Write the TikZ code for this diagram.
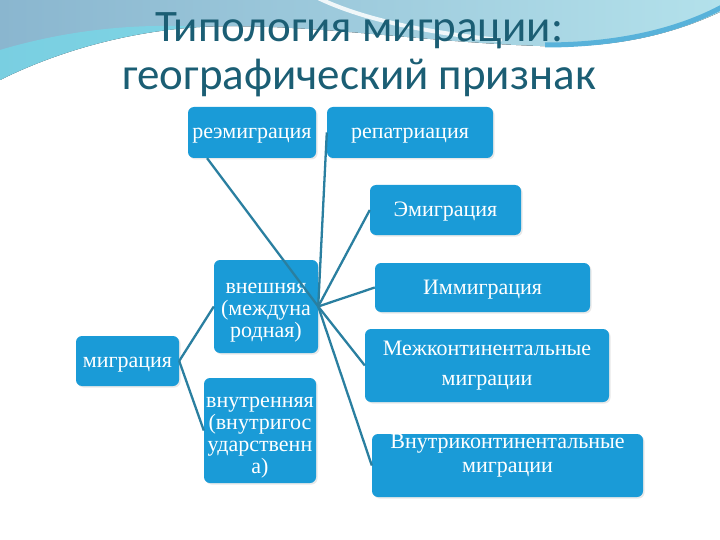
\documentclass[tikz,border=0pt]{standalone}
\usepackage{fontspec}
\setmainfont{Liberation Serif}
\newfontfamily\titlefont{Carlito}
\usetikzlibrary{shadows,calc}
\definecolor{boxblue}{HTML}{1A9BD7}
\definecolor{linecol}{HTML}{2A7FA0}
\definecolor{titlecol}{HTML}{1B5E74}
\definecolor{bandL}{HTML}{8AB6CF}
\definecolor{bandR}{HTML}{B3E1EB}
\definecolor{bandC}{HTML}{6FE0EE}
\definecolor{swoosh}{HTML}{58B2DA}
\newcommand\myline[1]{\raisebox{-6.5pt}[0pt][0pt]{#1}}
\newcommand\mylines[2]{\raisebox{#1}[0pt][0pt]{\begin{tabular}{@{}c@{}}#2\end{tabular}}}
\begin{document}
\begin{tikzpicture}[x=1pt,y=-1pt,
  box/.style={fill=boxblue, rounded corners=6pt, text=white,
    font=\fontsize{22}{22}\selectfont, align=center, inner sep=0pt,
    drop shadow={opacity=0.18, shadow xshift=1.5pt, shadow yshift=-1.5pt}},
  conn/.style={draw=linecol, line width=2.3pt}]
\useasboundingbox (0,0) rectangle (720,540);
% background band
\fill[left color=bandL, right color=bandR]
  (0,0) -- (720,0) -- (720,12) .. controls (660,40) and (600,48) .. (540,46)
  .. controls (420,42) and (300,22) .. (200,27)
  .. controls (120,32) and (50,55) .. (0,80) -- cycle;
\fill[bandC, opacity=0.6]
  (0,80) .. controls (50,55) and (120,32) .. (200,27)
  .. controls (120,22) and (50,35) .. (0,50) -- cycle;
\draw[white, line width=4pt, opacity=0.85, line cap=round]
  (318,-2) .. controls (360,18) and (420,32) .. (500,40);
\draw[swoosh, line width=5pt]
  (545,45) .. controls (620,45) and (680,30) .. (724,6);
% title
\node[font=\titlefont\fontsize{45}{48}\selectfont, text=titlecol, align=center]
  (title) at (359,55) {Типология миграции:\\географический признак};
% boxes
\node[box, minimum width=128pt, minimum height=51pt] (reem) at (252,132.5) {\myline{реэмиграция}};
\node[box, minimum width=166pt, minimum height=51pt] (repat) at (410,132.5) {\myline{репатриация}};
\node[box, minimum width=151pt, minimum height=50pt] (emig) at (445.5,210) {\myline{Эмиграция}};
\node[box, minimum width=104pt, minimum height=93pt] (vnesh) at (266,306.5) {\mylines{-9.5pt}{внешняя\\(междуна\\родная)}};
\node[box, minimum width=103pt, minimum height=50pt] (migr) at (127.5,361) {\myline{миграция}};
\node[box, minimum width=112pt, minimum height=105pt] (vnutr) at (260,430.5) {\mylines{-11pt}{внутренняя\\(внутригос\\ударственн\\а)}};
\node[box, minimum width=215pt, minimum height=49pt] (immig) at (482.5,287.5) {\myline{Иммиграция}};
\node[box, minimum width=244pt, minimum height=73pt, font=\fontsize{22}{30}\selectfont] (mezh) at (487,365.5) {Межконтинентальные\\миграции};
\node[box, minimum width=271pt, minimum height=63pt] (vnk) at (507.5,465.5)
  {\mylines{4.5pt}{Внутриконтинентальные\\[2pt]миграции}};
% connectors
\coordinate (hub) at (vnesh.east);
\draw[conn] ($(reem.south west)!0.15!(reem.south east)$) -- (hub);
\draw[conn] (repat.west) -- (hub);
\draw[conn] (emig.west) -- (hub);
\draw[conn] (immig.west) -- (hub);
\draw[conn] (mezh.west) -- (hub);
\draw[conn] (vnk.west) -- (hub);
\draw[conn] (migr.east) -- (vnesh.west);
\draw[conn] (migr.east) -- (vnutr.west);
\end{tikzpicture}
\end{document}
